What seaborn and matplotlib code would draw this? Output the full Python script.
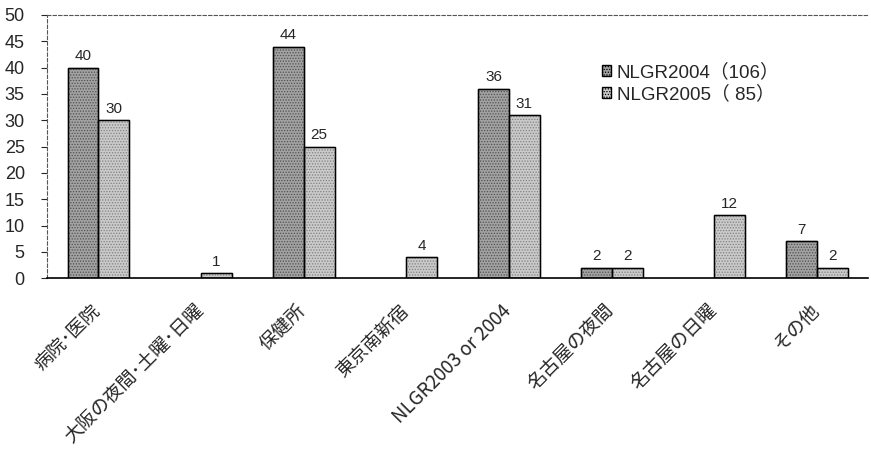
import matplotlib
matplotlib.use("Agg")
import matplotlib.pyplot as plt
import matplotlib.transforms as mtransforms
import seaborn as sns
import pandas as pd

categories = ["病院･医院", "大阪の夜間･土曜･日曜", "保健所", "東京南新宿",
              "NLGR2003 or 2004", "名古屋の夜間", "名古屋の日曜", "その他"]
series_names = ["NLGR2004（106）", "NLGR2005（ 85）"]
values_2004 = [40, 0, 44, 0, 36, 2, 0, 7]
values_2005 = [30, 1, 25, 4, 31, 2, 12, 2]
y_ticks = list(range(0, 51, 5))

df = pd.DataFrame({
    "category": categories * 2,
    "series": [series_names[0]] * len(categories) + [series_names[1]] * len(categories),
    "value": values_2004 + values_2005,
})

sns.set_theme(style="white")
plt.rcParams["font.family"] = ["Liberation Sans", "Noto Sans CJK JP", "DejaVu Sans"]
plt.rcParams["hatch.linewidth"] = 0.6

fig = plt.figure(figsize=(8.71, 4.53), dpi=100)
ax = fig.add_axes([0.054, 0.386, 0.943, 0.581])

face = ["#a2a2a2", "#cacaca"]
hatch_col = ["#505050", "#808080"]
sns.barplot(data=df, x="category", y="value", hue="series", hue_order=series_names,
            order=categories, palette=face, width=0.6, ax=ax, saturation=1,
            edgecolor="black", linewidth=1.0, legend=True)

for i, cont in enumerate(ax.containers):
    vals = values_2004 if i == 0 else values_2005
    labels = [str(v) if v > 0 else "" for v in vals]
    ax.bar_label(cont, labels=labels, padding=3, fontsize=11)
    for bar in cont:
        bar.set_hatch("......")
        # hatch color follows edgecolor; outline is redrawn on top in black
        bar.set_edgecolor(hatch_col[i])
        if bar.get_height() > 0:
            ax.add_patch(plt.Rectangle((bar.get_x(), 0), bar.get_width(), bar.get_height(),
                                       fill=False, edgecolor="black", linewidth=1.0, zorder=3))
        else:
            bar.set_visible(False)

ax.set_ylim(0, 50)
ax.set_yticks(y_ticks)
ax.set_yticklabels([str(t) for t in y_ticks], fontsize=13)
ax.set_xlabel("")
ax.set_ylabel("")
ax.tick_params(axis="y", direction="out", length=4, width=0.8, left=True, pad=12)
ax.tick_params(axis="x", length=0, pad=16)
ax.set_xticks(range(len(categories)))
ax.set_xticklabels(categories, rotation=45, ha="right", rotation_mode="anchor",
                   fontsize=13.5, family=["Noto Sans CJK JP", "DejaVu Sans"])
shift = mtransforms.ScaledTranslation(-8 / 100, 0, fig.dpi_scale_trans)
for lab in ax.get_xticklabels():
    lab.set_transform(lab.get_transform() + shift)

for side in ["top", "left", "right"]:
    ax.spines[side].set_linestyle((0, (3, 2)))
    ax.spines[side].set_linewidth(0.8)
    ax.spines[side].set_color("#555555")
ax.spines["right"].set_visible(False)
ax.spines["bottom"].set_color("black")
ax.spines["bottom"].set_linewidth(1.2)

leg = ax.legend(loc="upper left", bbox_to_anchor=(0.655, 0.88), frameon=False,
                prop={"family": ["Liberation Sans", "Noto Sans CJK JP"], "size": 13.5},
                handlelength=0.5, handleheight=0.5, handletextpad=0.3,
                labelspacing=0.2)
for h, c in zip(leg.legend_handles, face):
    h.set_hatch("......")
    h.set_edgecolor("black")

fig.savefig("out.png", dpi=100)
